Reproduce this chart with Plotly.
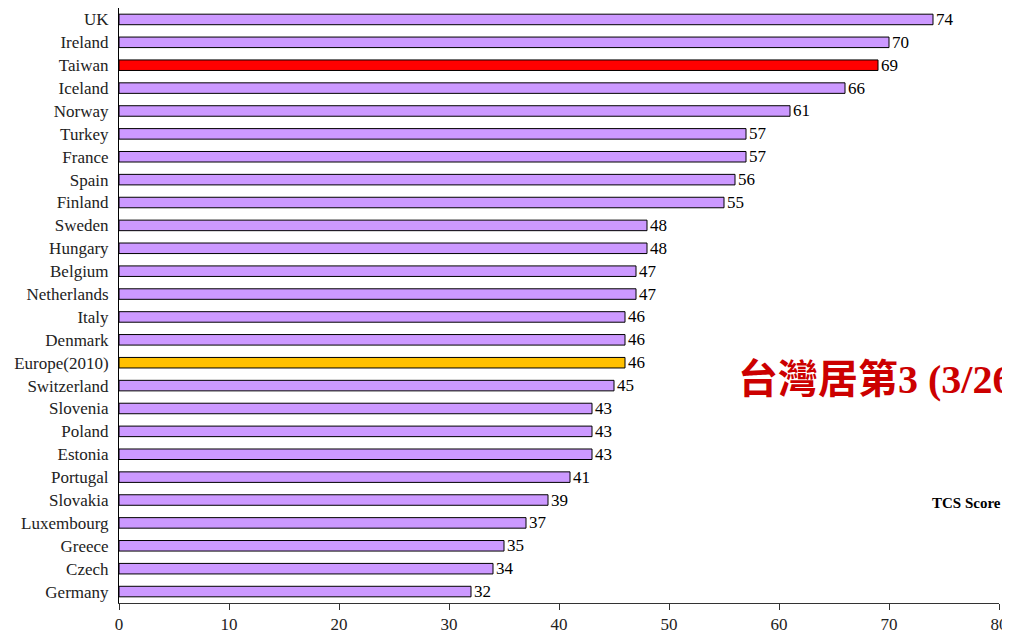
import plotly.graph_objects as go

countries = ["UK", "Ireland", "Taiwan", "Iceland", "Norway", "Turkey", "France", "Spain",
             "Finland", "Sweden", "Hungary", "Belgium", "Netherlands", "Italy", "Denmark",
             "Europe(2010)", "Switzerland", "Slovenia", "Poland", "Estonia", "Portugal",
             "Slovakia", "Luxembourg", "Greece", "Czech", "Germany"]
scores = [74, 70, 69, 66, 61, 57, 57, 56, 55, 48, 48, 47, 47, 46, 46, 46, 45, 43, 43, 43,
          41, 39, 37, 35, 34, 32]
x_ticks = [0, 10, 20, 30, 40, 50, 60, 70, 80]

base_color = "#cc99ff"
colors = []
for c in countries:
    if c == "Taiwan":
        colors.append("#ff0000")
    elif c == "Europe(2010)":
        colors.append("#ffc000")
    else:
        colors.append(base_color)

serif = "Liberation Serif, Times New Roman, serif"

W, H = 1002, 629
L, R, T, B = 111, 11, 0, 33.5
pw, ph = W - L - R, H - T - B

fig = go.Figure(go.Bar(
    x=scores, y=countries, orientation="h",
    marker=dict(color=colors, line=dict(color="black", width=1)),
    width=0.46,
    text=[str(s) for s in scores], textposition="outside",
    textfont=dict(family=serif, size=17, color="black"),
    constraintext="none", cliponaxis=False,
))

fig.update_layout(
    width=W, height=H,
    margin=dict(l=L, r=R, t=T, b=B, autoexpand=False),
    plot_bgcolor="white", paper_bgcolor="white",
    showlegend=False,
    xaxis=dict(range=[0, 80], tickvals=x_ticks, showgrid=False, zeroline=False,
               showline=True, linecolor="#333333", linewidth=1,
               ticks="outside", ticklen=6, tickcolor="#333333",
               tickfont=dict(family=serif, size=17, color="#222222")),
    yaxis=dict(categoryorder="array", categoryarray=countries, autorange="reversed",
               showgrid=False, zeroline=False, showline=True, linecolor="black",
               linewidth=1, ticks="", ticklabelstandoff=6,
               tickfont=dict(family=serif, size=17, color="#222222")),
    annotations=[
        dict(text="<b>台灣居第3 (3/26)</b>", xref="paper", yref="paper",
             x=(728 - L) / pw, y=(ph - 372) / ph, xanchor="left", yanchor="middle",
             showarrow=False,
             font=dict(family="Liberation Serif, Noto Sans CJK TC, serif", size=40, color="#cc0000")),
        dict(text="<b>TCS Score</b>", xref="paper", yref="paper",
             x=(995 - L) / pw, y=(ph - 495) / ph, xanchor="right", yanchor="middle",
             showarrow=False,
             font=dict(family=serif, size=15, color="black")),
    ],
)

fig.write_html("out.html")
